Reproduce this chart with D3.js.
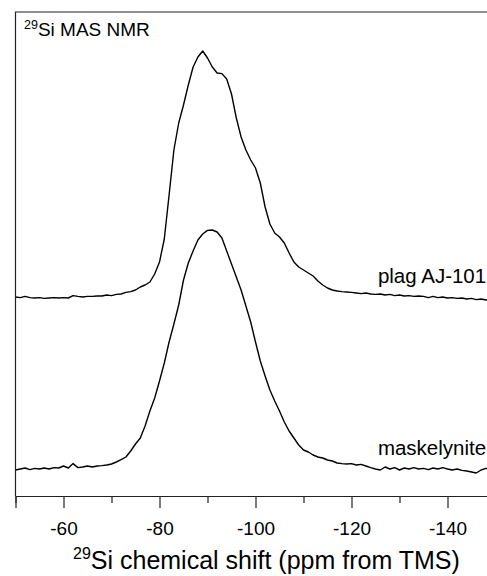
<!DOCTYPE html>
<html>
	<head>
		<meta charset="UTF-8">
		<title>29Si MAS NMR</title>
		<style>
			body{margin:0;background:#fff;}
			text{font-family:"Liberation Sans",Arial,sans-serif;fill:#000;}
		</style>
	</head>
	<body>
		<div id="chart"></div>
		<script src="https://cdn.jsdelivr.net/npm/d3@7"></script>
		<script>
			//chemical shift grid (ppm), one point per ppm
			var shifts = d3.range(-50,-151,-1);
			//plag AJ-101 intensity above its own baseline (arb. units)
			var plagValues = [
				-0.5,-0.8,-0.2,-0.8,-1.0,-0.8,-1.2,-1.0,-0.8,-1.0,
				-0.8,-1.0,0.2,-0.2,-0.5,-0.2,-0.2,0,0,0.5,
				0.2,0.8,1.0,1.8,2.2,3.0,4.5,5.5,7.0,11.0,
				17.0,28.5,50.5,73.0,86.5,95.5,105.5,114.5,119.5,122.5,
				119.0,114.5,111.5,111.2,108.5,101.0,89.0,79.5,73.0,68.0,
				64.0,56.5,44.5,36.0,31.5,29.5,26.5,21.5,17.0,14.5,
				13.0,11.5,10.0,7.5,5.5,4.0,3.0,2.5,2.2,2.0,
				1.8,1.5,1.2,1.5,1.0,0.8,1.0,0.5,0.8,0.2,
				0.5,0,0.2,-0.2,0,-0.2,-0.8,-0.2,-0.8,-0.5,
				-1.0,-0.8,-1.2,-1.0,-1.5,-1.2,-1.8,-1.5,-2.0,-1.8,
				-2.0
			];
			//maskelynite intensity above its own baseline (arb. units)
			var maskValues = [
				-1.0,-0.5,0,-0.8,-0.2,-0.5,0,-0.5,0.2,0,
				1.0,0,2.2,0.2,0.5,1.0,0.5,1.0,1.2,1.5,
				2.0,3.0,4.2,5.5,8.5,12.0,15.0,21.0,28.5,35.0,
				43.5,52.5,63.0,72.0,81.5,94.0,102.5,108.5,114.0,117.0,
				118.8,119.0,118.0,115.0,108.5,102.0,95.5,89.0,81.0,73.0,
				63.0,53.5,46.0,39.0,33.5,28.5,23.0,18.5,15.0,11.5,
				9.0,8.0,6.5,5.5,5.0,4.0,3.5,2.5,2.2,2.0,
				2.2,1.5,1.8,1.0,0.2,-0.5,-1.0,0.5,-0.5,0.2,
				-1.0,0,-0.5,0.2,-0.5,-0.2,-0.8,0,-0.5,0.2,
				-0.5,-1.0,-0.5,-1.2,-1.5,-2.0,-2.5,-1.0,-0.2,-0.5,
				-0.8
			];
			var seriesNames = ["plag AJ-101","maskelynite"];
			var seriesOffsets = [100,14];
			var majorTicks = [-60,-80,-100,-120,-140];
			var minorTicks = [-50,-70,-90,-110,-130,-150];

			var width = 487,
				height = 576;
			var m = {left:15.5,top:12,right:-8.5,bottom:80};
			var plotW = width - m.left - m.right,
				plotH = height - m.top - m.bottom;

			var svg = d3.select("#chart").append("svg")
						.attr("width",width)
						.attr("height",height);

			//x runs from high to low shift, NMR style
			var x = d3.scaleLinear().domain([-50,-150]).range([0,plotW]);
			var y = d3.scaleLinear().domain([0,242]).range([plotH,0]);

			var g = svg.append("g")
						.attr("transform","translate("+m.left+","+m.top+")");

			g.append("clipPath").attr("id","clip")
				.append("rect")
				.attr("width",plotW)
				.attr("height",plotH);

			var series = [plagValues,maskValues].map(function(vals,i){
				return {
					name:seriesNames[i],
					offset:seriesOffsets[i],
					points:shifts.map(function(s,j){return [s,vals[j]];})
				};
			});

			var line = d3.line()
						.x(function(d){return x(d[0]);});

			g.append("g").attr("clip-path","url(#clip)")
				.selectAll("path")
				.data(series)
				.enter()
				.append("path")
				.attr("fill","none")
				.attr("stroke","#000")
				.attr("stroke-width",1.4)
				.attr("stroke-linejoin","round")
				.attr("d",function(s){
					return line.y(function(d){return y(d[1]+s.offset);})(s.points);
				});

			//series labels, sitting just above each baseline
			g.selectAll("text.label")
				.data(series)
				.enter()
				.append("text")
				.attr("class","label")
				.attr("x",x(-125.5))
				.attr("y",function(s){return y(s.offset+6.5);})
				.style("font-size","20.5px")
				.text(function(s){return s.name;});

			//frame: left and top edges
			g.append("path")
				.attr("fill","none")
				.attr("stroke","#222")
				.attr("stroke-width",1.2)
				.attr("d","M0,"+plotH+"V0H"+plotW);

			//bottom axis, major ticks with labels
			var axis = g.append("g")
						.attr("transform","translate(0,"+plotH+")")
						.call(d3.axisBottom(x)
							.tickValues(majorTicks)
							.tickSize(12)
							.tickFormat(function(d){return String(d);}));
			axis.select(".domain").attr("stroke","#222").attr("stroke-width",1.2);
			axis.selectAll(".tick line").attr("stroke","#222").attr("stroke-width",1.2);
			axis.selectAll(".tick text")
				.attr("y",39)
				.attr("dy",0)
				.style("font-size","19px")
				.style("font-family","'Liberation Sans',Arial,sans-serif")
				.attr("fill","#000");

			//minor ticks
			var minor = g.append("g")
						.attr("transform","translate(0,"+plotH+")")
						.call(d3.axisBottom(x)
							.tickValues(minorTicks)
							.tickSize(7)
							.tickFormat(""));
			minor.select(".domain").remove();
			minor.selectAll(".tick line").attr("stroke","#222").attr("stroke-width",1.2);

			//axis title
			var xt = svg.append("text")
						.attr("x",73)
						.attr("y",569)
						.style("font-size","25px");
			xt.append("tspan").attr("dy",-10).style("font-size","16px").text("29");
			xt.append("tspan").attr("dy",10).text("Si chemical shift (ppm from TMS)");

			//plot title
			var tt = svg.append("text")
						.attr("x",24)
						.attr("y",35.5)
						.style("font-size","19px");
			tt.append("tspan").attr("dy",-7).style("font-size","12.5px").text("29");
			tt.append("tspan").attr("dy",7).text("Si MAS NMR");
		</script>
	</body>
</html>
